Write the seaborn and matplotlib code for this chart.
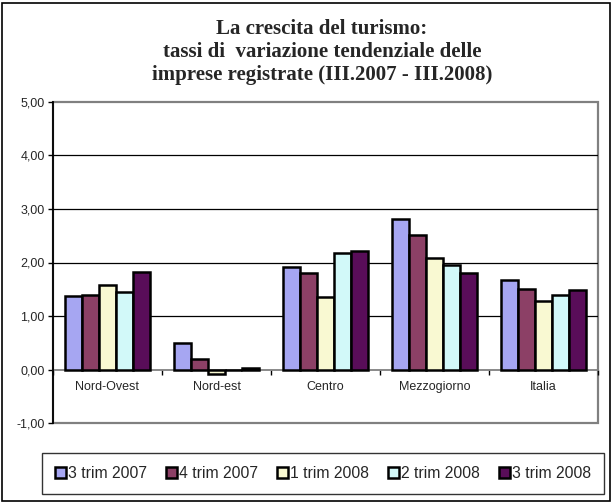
import matplotlib
matplotlib.use("Agg")
import matplotlib.pyplot as plt
import matplotlib.patches as mpatches
from matplotlib.ticker import FuncFormatter, FixedLocator
import seaborn as sns
import pandas as pd

regions = ["Nord-Ovest", "Nord-est", "Centro", "Mezzogiorno", "Italia"]
periods = ["3 trim 2007", "4 trim 2007", "1 trim 2008", "2 trim 2008", "3 trim 2008"]
v_3t2007 = [1.37, 0.50, 1.91, 2.81, 1.67]
v_4t2007 = [1.39, 0.20, 1.81, 2.51, 1.50]
v_1t2008 = [1.58, -0.08, 1.36, 2.09, 1.28]
v_2t2008 = [1.45, 0.00, 2.17, 1.95, 1.39]
v_3t2008 = [1.83, 0.02, 2.22, 1.81, 1.48]
series = [v_3t2007, v_4t2007, v_1t2008, v_2t2008, v_3t2008]
colors = ["#9999FF", "#993366", "#FFFFCC", "#CCFFFF", "#660066"]
yticks = [-1, 0, 1, 2, 3, 4, 5]

rows = []
for p, vals in zip(periods, series):
    for r, v in zip(regions, vals):
        rows.append({"region": r, "period": p, "value": v})
df = pd.DataFrame(rows)

sns.set_style("white")
plt.rcParams["font.family"] = ["Liberation Sans", "DejaVu Sans"]

fig = plt.figure(figsize=(6.12, 5.03), dpi=100)
ax = fig.add_axes([53 / 612, 1 - 423 / 503, (598 - 53) / 612, (423 - 102) / 503])

sns.barplot(data=df, x="region", y="value", hue="period", order=regions,
            hue_order=periods, palette=colors, width=0.78, gap=0,
            edgecolor="black", linewidth=1.8, ax=ax, zorder=3)

ax.set_ylim(-1, 5)
ax.set_xlim(-0.5, 4.5)
ax.set_xlabel("")
ax.set_ylabel("")

for y in [1, 2, 3, 4]:
    ax.axhline(y, color="black", lw=0.9, zorder=1)

# frame
ax.add_patch(mpatches.Rectangle((0, 0), 1, 1, transform=ax.transAxes, fill=False,
                                edgecolor="#808080", lw=1.6, clip_on=False, zorder=0))
for s in ["top", "right"]:
    ax.spines[s].set_visible(False)
ax.spines["left"].set_color("black")
ax.spines["left"].set_linewidth(1.3)
ax.spines["left"].set_zorder(5)
ax.spines["bottom"].set_position(("data", 0))
ax.spines["bottom"].set_color("#808080")
ax.spines["bottom"].set_linewidth(1.3)

ax.yaxis.set_major_locator(FixedLocator(yticks))
ax.yaxis.set_major_formatter(FuncFormatter(lambda v, _: f"{v:.2f}".replace(".", ",")))
ax.tick_params(axis="y", which="major", direction="out", length=3.5, width=1,
               color="black", labelsize=9, pad=2.5, left=True)
ax.set_xticks(range(len(regions)))
ax.set_xticklabels(regions)
ax.set_xticks([i - 0.5 for i in range(len(regions) + 1)], minor=True)
ax.tick_params(axis="x", which="major", length=0, labelsize=9, pad=8)
ax.tick_params(axis="x", which="minor", direction="out", length=3.5, width=1,
               color="black", bottom=True)

# title
title_lines = ["La crescita del turismo:",
               "tassi di  variazione tendenziale delle",
               "imprese registrate (III.2007 - III.2008)"]
fig.text(322 / 612, 1 - 52 / 503, "\n".join(title_lines), ha="center", va="center",
         fontsize=15, fontweight="bold", family=["Liberation Serif", "DejaVu Serif"],
         linespacing=1.17)

# legend
handles, labels = ax.get_legend_handles_labels()
if ax.legend_:
    ax.legend_.remove()
leg = fig.legend(handles, labels, loc="center", bbox_to_anchor=(323 / 612, 1 - 473.5 / 503),
                 ncol=5, frameon=True, fancybox=False, edgecolor="black",
                 fontsize=11.3, handlelength=0.68, handleheight=0.68,
                 handletextpad=0.12, columnspacing=1.25, borderpad=0.85,
                 borderaxespad=0)
leg.get_frame().set_linewidth(1.0)
for h in leg.legend_handles:
    h.set_edgecolor("black")
    h.set_linewidth(1.8)

# outer border
fig.add_artist(mpatches.Rectangle((2 / 612, 2 / 503), 608 / 612, 498 / 503,
                                  transform=fig.transFigure, fill=False,
                                  edgecolor="black", lw=1.2))

fig.savefig("out.png", dpi=100)
